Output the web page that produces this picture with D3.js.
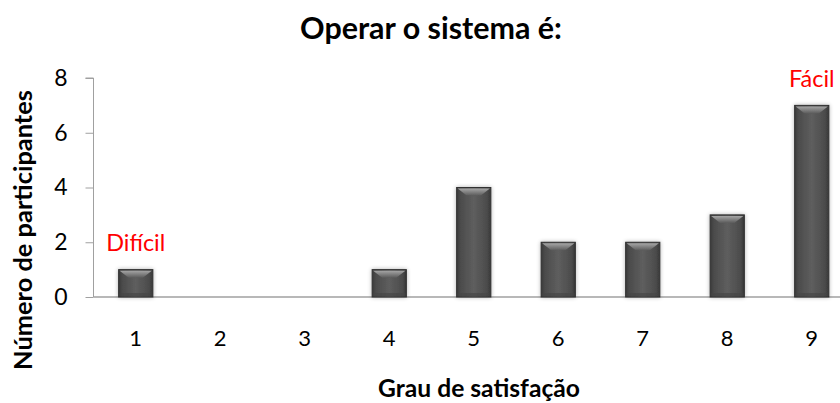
<!DOCTYPE html>
<html>
<head>
<meta charset="utf-8">
<script src="https://cdn.jsdelivr.net/npm/d3@7/dist/d3.min.js"></script>
<style>
  html, body { margin: 0; padding: 0; background: #fff; }
  svg { display: block; font-family: Lato, "Open Sans", sans-serif; }
</style>
</head>
<body>
<svg id="chart" width="840" height="403"></svg>
<script>
// Satisfaction ratings (1 = hard, 9 = easy) and participant counts
const grades = ["1", "2", "3", "4", "5", "6", "7", "8", "9"];
const participants = [1, 0, 0, 1, 4, 2, 2, 3, 7];
const yTicks = [0, 2, 4, 6, 8];
const titleText = "Operar o sistema é:";
const xTitleText = "Grau de satisfação";
const yTitleText = "Número de participantes";
const endLabels = [{ grade: "1", text: "Difícil" }, { grade: "9", text: "Fácil" }];

const svg = d3.select("#chart");
const plotLeft = 93.5, plotBottom = 297, plotTop = 78;

const x = d3.scaleBand().domain(grades).range([plotLeft, plotLeft + 9 * 84.5]).padding(0);
const y = d3.scaleLinear().domain([0, 8]).range([plotBottom, plotTop]);
const barW = x.bandwidth() * 0.405;

// fit a text element to a target width by adjusting its font size
function fitWidth(sel, size, width) {
  sel.attr("font-size", size);
  const w = sel.node().getComputedTextLength();
  const s = size * width / w;
  sel.attr("font-size", s);
  return s;
}

const defs = svg.append("defs");
const body = defs.append("linearGradient").attr("id", "barBody").attr("x1", 0).attr("x2", 1).attr("y1", 0).attr("y2", 0);
body.append("stop").attr("offset", "0").attr("stop-color", "#3a3a3a");
body.append("stop").attr("offset", "0.12").attr("stop-color", "#4c4c4c");
body.append("stop").attr("offset", "0.5").attr("stop-color", "#5e5e5e");
body.append("stop").attr("offset", "0.88").attr("stop-color", "#4c4c4c");
body.append("stop").attr("offset", "1").attr("stop-color", "#383838");

const cap = defs.append("linearGradient").attr("id", "barCap").attr("x1", 0).attr("x2", 0).attr("y1", 0).attr("y2", 1);
cap.append("stop").attr("offset", "0").attr("stop-color", "#a6a6a6");
cap.append("stop").attr("offset", "1").attr("stop-color", "#5c5c5c");

const shadow = defs.append("filter").attr("id", "shadow").attr("x", "-30%").attr("y", "-30%").attr("width", "160%").attr("height", "160%");
shadow.append("feGaussianBlur").attr("in", "SourceAlpha").attr("stdDeviation", 2.2).attr("result", "b");
shadow.append("feOffset").attr("in", "b").attr("dx", 0).attr("dy", 0).attr("result", "o");
shadow.append("feComponentTransfer").attr("in", "o").attr("result", "s")
  .append("feFuncA").attr("type", "linear").attr("slope", 0.3);
const merge = shadow.append("feMerge");
merge.append("feMergeNode").attr("in", "s");
merge.append("feMergeNode").attr("in", "SourceGraphic");

// title
const title = svg.append("text").attr("x", 431).attr("y", 39).attr("text-anchor", "middle")
  .attr("font-weight", "bold").attr("fill", "#000").text(titleText);
fitWidth(title, 24, 262);

// y axis
const yAxis = svg.append("g").attr("transform", `translate(${plotLeft},0)`)
  .call(d3.axisLeft(y).tickValues(yTicks).tickSize(8).tickPadding(18).tickFormat(d3.format("d")));
yAxis.select(".domain").attr("stroke", "#a0a0a0").attr("d", `M-8,${plotTop}H0V${plotBottom}`);
yAxis.selectAll(".tick line").attr("stroke", "#a0a0a0");
yAxis.selectAll(".tick text").attr("font-size", 23).attr("fill", "#000").attr("font-family", "Lato, sans-serif");

// x axis baseline
svg.append("line").attr("x1", plotLeft).attr("x2", 840).attr("y1", plotBottom).attr("y2", plotBottom)
  .attr("stroke", "#a0a0a0").attr("stroke-width", 1.3);

// x tick labels
svg.append("g").selectAll("text").data(grades).join("text")
  .attr("x", d => x(d) + x.bandwidth() / 2).attr("y", 346)
  .attr("text-anchor", "middle").attr("font-size", 22).attr("fill", "#000").text(d => d);

// bars
const bars = svg.append("g").selectAll("g").data(grades.map((g, i) => ({ g, v: participants[i] })).filter(d => d.v > 0))
  .join("g").attr("filter", "url(#shadow)");
bars.append("rect")
  .attr("x", d => x(d.g) + (x.bandwidth() - barW) / 2)
  .attr("y", d => y(d.v)).attr("width", barW).attr("height", d => y(0) - y(d.v))
  .attr("fill", "url(#barBody)").attr("stroke", "#303030").attr("stroke-width", 1);
bars.append("path").attr("fill", "url(#barCap)")
  .attr("d", d => {
    const x0 = x(d.g) + (x.bandwidth() - barW) / 2, y0 = y(d.v);
    return `M${x0 + 1},${y0 + 1}H${x0 + barW - 1}L${x0 + barW - 10},${y0 + 8}H${x0 + 10}Z`;
  });
bars.append("rect")
  .attr("x", d => x(d.g) + (x.bandwidth() - barW) / 2 + 1)
  .attr("y", y(0) - 4).attr("width", barW - 2).attr("height", 3)
  .attr("fill", "#444").attr("opacity", 0.6);

// end labels: "Difícil" over the first grade, "Fácil" over the last one
const hard = svg.append("text")
  .attr("x", x(endLabels[0].grade) + x.bandwidth() / 2).attr("y", 251)
  .attr("text-anchor", "middle").attr("fill", "#ff0000").text(endLabels[0].text);
const endSize = fitWidth(hard, 21, 59);
svg.append("text")
  .attr("x", 789).attr("y", 87)
  .attr("text-anchor", "start").attr("font-size", endSize).attr("fill", "#ff0000").text(endLabels[1].text);

// axis titles
const xTitle = svg.append("text").attr("x", 479).attr("y", 397).attr("text-anchor", "middle")
  .attr("font-weight", "bold").attr("fill", "#000").text(xTitleText);
fitWidth(xTitle, 20, 202);

const yTitle = svg.append("text").attr("transform", "translate(32,230) rotate(-90)")
  .attr("text-anchor", "middle").attr("font-weight", "bold").attr("fill", "#000").text(yTitleText);
fitWidth(yTitle, 20, 280);
</script>
</body>
</html>
